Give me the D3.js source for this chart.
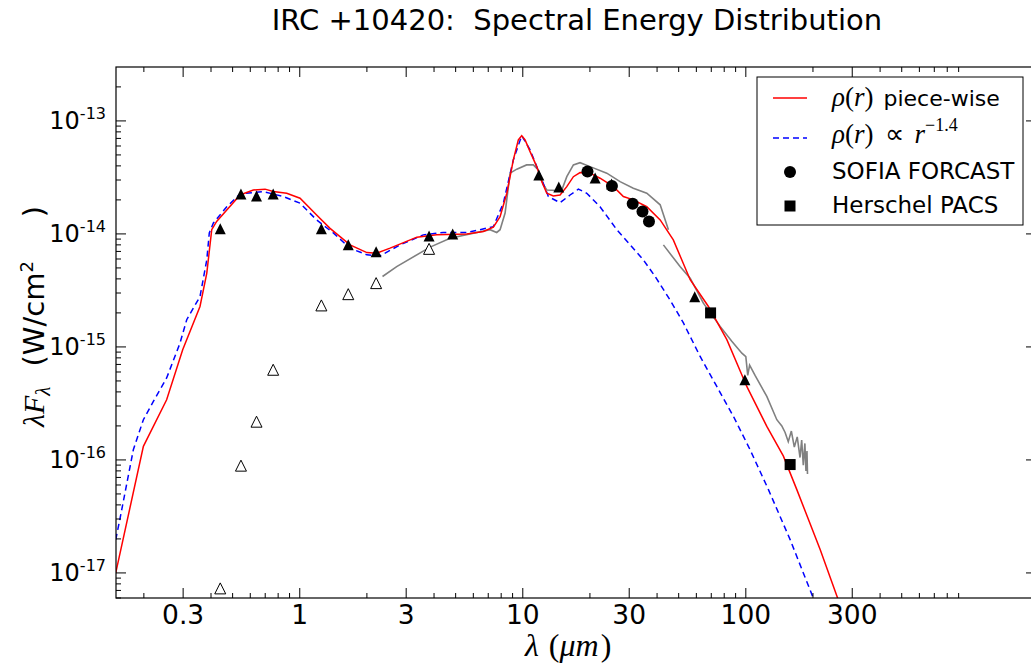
<!DOCTYPE html>
<html>
<head>
<meta charset="utf-8">
<script src="https://cdn.jsdelivr.net/npm/d3@7"></script>
<style>
body { margin: 0; background: #fff; }
svg { display: block; }
svg text { white-space: pre; }
</style>
</head>
<body>
<div id="chart"></div>
<script>
// photometry, dereddened (filled triangles)
const photLam = [0.44, 0.545, 0.64, 0.76, 1.25, 1.65, 2.2, 3.8, 4.85, 11.8, 14.5, 21.1, 25, 59, 99];
const photFlux = [1.11e-14, 2.26e-14, 2.17e-14, 2.26e-14, 1.11e-14, 8.0e-15, 6.95e-15, 9.6e-15, 1.0e-14,
    3.33e-14, 2.6e-14, 3.13e-14, 2.77e-14, 2.78e-15, 5.13e-16];
// photometry, observed (open triangles)
const obsLam = [0.44, 0.545, 0.64, 0.76, 1.25, 1.65, 2.2, 3.8];
const obsFlux = [7.3e-18, 8.9e-17, 2.18e-16, 6.28e-16, 2.33e-15, 2.93e-15, 3.67e-15, 7.38e-15];
// SOFIA FORCAST
const sofiaLam = [19.5, 25.1, 31.1, 34.4, 36.8];
const sofiaFlux = [3.56e-14, 2.66e-14, 1.85e-14, 1.58e-14, 1.29e-14];
// Herschel PACS
const pacsLam = [69.5, 158];
const pacsFlux = [2.0e-15, 9.1e-17];

// ISO spectra (grey)
const swsLam = [2.35, 2.72, 3.84, 4.72, 7.13, 7.64, 7.91, 8.33, 8.77, 9.4, 10.4, 11.15, 11.74, 12.37, 12.81,
    14.2, 14.96, 15.75, 16.86, 18.06, 20.03, 23.8, 27.3, 31.3, 35.97, 41.3, 44.97];
const swsFlux = [4.2e-15, 5.14e-15, 7.64e-15, 9.17e-15, 1.09e-14, 1.03e-14, 1.09e-14, 1.53e-14, 3.45e-14, 3.74e-14,
    4.08e-14, 4.08e-14, 3.68e-14, 2.72e-14, 2.45e-14, 2.42e-14, 2.45e-14, 3.21e-14, 4.08e-14, 4.27e-14, 3.94e-14,
    3.45e-14, 2.9e-14, 2.54e-14, 2.29e-14, 1.81e-14, 1.09e-14];
const lwsLam = [42.7, 50.7, 56.3, 64.5, 76.7, 86.5, 96, 100, 102, 104, 110, 124.2, 137.7, 145, 150, 155, 160,
    165, 170, 175, 178, 181, 184, 186, 188, 189];
const lwsFlux = [8.0e-15, 5.14e-15, 4.06e-15, 2.44e-15, 1.52e-15, 1.12e-15, 8.8e-16, 8.2e-16, 5.6e-16, 6.9e-16,
    5.6e-16, 3.65e-16, 2.27e-16, 2.0e-16, 1.75e-16, 1.45e-16, 1.8e-16, 1.3e-16, 1.6e-16, 1.05e-16, 1.5e-16,
    0.9e-16, 1.4e-16, 0.8e-16, 1.2e-16, 0.75e-16];

// model: rho(r) piece-wise (red)
const redLam = [0.1496, 0.199, 0.253, 0.2986, 0.357, 0.383, 0.403, 0.424, 0.54, 0.619, 0.699, 0.761, 0.874,
    1.003, 1.19, 1.367, 1.68, 2.0, 2.21, 2.54, 3.35, 4.11, 5.61, 6.66, 7.38, 7.91, 8.48, 9.07, 9.55, 9.89,
    10.24, 10.78, 11.55, 12.17, 12.81, 13.71, 14.69, 15.75, 16.86, 18.06, 20.03, 22.2, 25.5, 28.25, 31.3,
    35.97, 41.3, 47.3, 56.3, 67.96, 82.2, 101, 124.2, 147.4, 169.3, 215.4, 259.4, 278.7];
const redFlux = [1.0e-17, 1.32e-16, 3.41e-16, 9.44e-16, 2.28e-15, 4.5e-15, 1.09e-14, 1.29e-14, 2.21e-14,
    2.45e-14, 2.49e-14, 2.37e-14, 2.29e-14, 2.07e-14, 1.47e-14, 1.12e-14, 8.0e-15, 6.84e-15, 6.76e-15,
    7.48e-15, 9.36e-15, 9.81e-15, 1.0e-14, 1.05e-14, 1.15e-14, 1.42e-14, 2.29e-14, 4.52e-14, 6.79e-14,
    7.41e-14, 6.79e-14, 5.35e-14, 3.94e-14, 2.9e-14, 2.29e-14, 2.17e-14, 2.21e-14, 2.62e-14, 3.21e-14,
    3.49e-14, 3.45e-14, 3.11e-14, 2.62e-14, 2.14e-14, 2.0e-14, 1.74e-14, 1.33e-14, 8.86e-15, 3.93e-15,
    2.28e-15, 1.16e-15, 4.47e-16, 1.98e-16, 1.08e-16, 5.46e-17, 1.61e-17, 5.81e-18, 3.87e-18];

// model: rho(r) ~ r^-1.4 (blue dashed)
const blueLam = [0.1496, 0.156, 0.1794, 0.199, 0.2206, 0.253, 0.2904, 0.3113, 0.357, 0.383, 0.393, 0.41,
    0.439, 0.4705, 0.54, 0.6865, 0.844, 1.003, 1.19, 1.414, 1.68, 2.0, 2.29, 2.82, 3.58, 4.4, 5.61, 6.43,
    7.38, 8.18, 9.07, 9.89, 10.78, 11.95, 13.02, 14.69, 16.29, 17.75, 19.36, 22.2, 26.4, 30.3, 34.7, 39.2,
    45.7, 52.5, 62.4, 74.1, 88.0, 104.5, 126.3, 158, 200.3, 215];
const blueFlux = [1.97e-17, 2.96e-17, 1.23e-16, 2.27e-16, 3.3e-16, 5.31e-16, 1.08e-15, 1.74e-15, 2.79e-15,
    5.9e-15, 1.02e-14, 1.25e-14, 1.47e-14, 1.74e-14, 2.26e-14, 2.37e-14, 2.14e-14, 1.87e-14, 1.33e-14,
    1.02e-14, 7.48e-15, 6.53e-15, 6.4e-15, 8.0e-15, 9.81e-15, 1.03e-14, 1.03e-14, 1.09e-14, 1.16e-14,
    1.87e-14, 4.52e-14, 7.41e-14, 5.54e-14, 3.33e-14, 2.14e-14, 1.89e-14, 2.21e-14, 2.49e-14, 2.29e-14,
    1.74e-14, 1.09e-14, 8.0e-15, 5.9e-15, 4.2e-15, 2.61e-15, 1.63e-15, 8.23e-16, 4.47e-16, 2.43e-16,
    1.23e-16, 5.46e-17, 1.97e-17, 6.05e-18, 4.0e-18];

const xMajor = [0.3, 1, 3, 10, 30, 100, 300];
const xMajorLabels = ["0.3", "1", "3", "10", "30", "100", "300"];
const yMajor = [1e-17, 1e-16, 1e-15, 1e-14, 1e-13];
const yMajorExp = ["-17", "-16", "-15", "-14", "-13"];

const width = 1031, height = 666;
const plotL = 116, plotR = 1036, plotT = 67, plotB = 598;

const svg = d3.select("#chart").append("svg")
    .attr("width", width)
    .attr("height", height);

const x = d3.scaleLog().domain([0.15, 2000]).range([plotL, plotR]);
const y = d3.scaleLog().domain([6e-18, 3e-13]).range([plotB, plotT]);

svg.append("clipPath").attr("id", "clip")
    .append("rect")
    .attr("x", plotL).attr("y", plotT)
    .attr("width", plotR - plotL).attr("height", plotB - plotT);

const plot = svg.append("g").attr("clip-path", "url(#clip)");

function zip(a, b) {
    return a.map((v, i) => ({ lam: v, f: b[i] }));
}

const line = d3.line()
    .x(d => x(d.lam))
    .y(d => y(d.f));

// grey spectra
[zip(swsLam, swsFlux), zip(lwsLam, lwsFlux)].forEach(function (seg) {
    plot.append("path")
        .datum(seg)
        .attr("d", line)
        .attr("fill", "none")
        .attr("stroke", "#808080")
        .attr("stroke-width", 1.6);
});

plot.append("path")
    .datum(zip(blueLam, blueFlux))
    .attr("d", line)
    .attr("fill", "none")
    .attr("stroke", "#0000ff")
    .attr("stroke-width", 1.5)
    .attr("stroke-dasharray", "6,4");

plot.append("path")
    .datum(zip(redLam, redFlux))
    .attr("d", line)
    .attr("fill", "none")
    .attr("stroke", "#ff0000")
    .attr("stroke-width", 1.5);

function triPath(s) {
    return `M0,${-s}L${s},${s}L${-s},${s}Z`;
}

// open triangles
plot.selectAll(".obs")
    .data(zip(obsLam, obsFlux))
    .join("path")
    .attr("class", "obs")
    .attr("d", triPath(5.5))
    .attr("transform", d => `translate(${x(d.lam)},${y(d.f)})`)
    .attr("fill", "#fff")
    .attr("stroke", "#000")
    .attr("stroke-width", 1);

// filled triangles
plot.selectAll(".phot")
    .data(zip(photLam, photFlux))
    .join("path")
    .attr("class", "phot")
    .attr("d", triPath(5.5))
    .attr("transform", d => `translate(${x(d.lam)},${y(d.f)})`)
    .attr("fill", "#000");

plot.selectAll(".sofia")
    .data(zip(sofiaLam, sofiaFlux))
    .join("circle")
    .attr("class", "sofia")
    .attr("cx", d => x(d.lam))
    .attr("cy", d => y(d.f))
    .attr("r", 6)
    .attr("fill", "#000");

plot.selectAll(".pacs")
    .data(zip(pacsLam, pacsFlux))
    .join("rect")
    .attr("class", "pacs")
    .attr("x", d => x(d.lam) - 5.5)
    .attr("y", d => y(d.f) - 5.5)
    .attr("width", 11)
    .attr("height", 11)
    .attr("fill", "#000");

// frame
svg.append("rect")
    .attr("x", plotL).attr("y", plotT)
    .attr("width", plotR - plotL).attr("height", plotB - plotT)
    .attr("fill", "none")
    .attr("stroke", "#000")
    .attr("stroke-width", 1.2);

// minor tick values
function minorTicks(scale, lo, hi, skip) {
    const out = [];
    const d = scale.domain();
    for (let n = lo; n <= hi; n++) {
        for (let k = 2; k <= 9; k++) {
            const v = k * Math.pow(10, n);
            if (v >= d[0] && v <= d[1] && !skip.some(s => Math.abs(s - v) / v < 1e-6)) out.push(v);
        }
    }
    return out;
}
const xMinor = minorTicks(x, -1, 3, xMajor);
const yMinor = minorTicks(y, -18, -13, []);

const ticks = svg.append("g").attr("stroke", "#000").attr("stroke-width", 1);
function xTicks(vals, len) {
    vals.forEach(v => {
        ticks.append("line").attr("x1", x(v)).attr("x2", x(v)).attr("y1", plotB).attr("y2", plotB - len);
        ticks.append("line").attr("x1", x(v)).attr("x2", x(v)).attr("y1", plotT).attr("y2", plotT + len);
    });
}
function yTicks(vals, len) {
    vals.forEach(v => {
        ticks.append("line").attr("y1", y(v)).attr("y2", y(v)).attr("x1", plotL).attr("x2", plotL + len);
        ticks.append("line").attr("y1", y(v)).attr("y2", y(v)).attr("x1", plotR).attr("x2", plotR - len);
    });
}
xTicks(xMajor, 10);
xTicks(xMinor, 5);
yTicks(yMajor, 10);
yTicks(yMinor, 5);

// tick labels
svg.append("g").selectAll("text")
    .data(xMajor)
    .join("text")
    .attr("x", d => x(d))
    .attr("y", 624)
    .attr("text-anchor", "middle")
    .attr("font-family", "DejaVu Sans")
    .attr("font-size", 26.5)
    .text((d, i) => xMajorLabels[i]);

const yl = svg.append("g").selectAll("text")
    .data(yMajor)
    .join("text")
    .attr("x", 106)
    .attr("y", d => y(d) + 8)
    .attr("text-anchor", "end")
    .attr("font-family", "DejaVu Sans")
    .attr("font-size", 24);
yl.append("tspan").text("10");
yl.append("tspan").attr("dy", -10).attr("font-size", 16).text((d, i) => yMajorExp[i]);

// title
svg.append("text")
    .attr("x", 577)
    .attr("y", 30)
    .attr("text-anchor", "middle")
    .attr("font-family", "DejaVu Sans")
    .attr("font-size", 29)
    .text("IRC +10420:  Spectral Energy Distribution");

// x label
const xl = svg.append("text")
    .attr("x", 525)
    .attr("y", 656)
    .attr("font-family", "Liberation Serif")
    .attr("font-size", 32);
xl.append("tspan").attr("font-style", "italic").text("λ");
xl.append("tspan").attr("dx", 10).text("(");
xl.append("tspan").attr("font-style", "italic").text("μm");
xl.append("tspan").attr("dx", 2).text(")");

// y label
const ylab = svg.append("text")
    .attr("transform", "translate(44,427) rotate(-90)")
    .attr("font-size", 30);
ylab.append("tspan").attr("font-family", "Liberation Serif").attr("font-style", "italic").text("λF");
ylab.append("tspan").attr("font-family", "Liberation Serif").attr("font-style", "italic")
    .attr("font-size", 21).attr("dy", 6).text("λ");
ylab.append("tspan").attr("font-family", "DejaVu Sans").attr("font-size", 29).attr("dy", -6).attr("dx", 20).text("(W/cm");
ylab.append("tspan").attr("font-family", "DejaVu Sans").attr("font-size", 18).attr("dy", -11).text("2");
ylab.append("tspan").attr("font-family", "DejaVu Sans").attr("font-size", 29).attr("dy", 11).attr("dx", 44).text(")");

// legend
const lg = svg.append("g");
lg.append("rect")
    .attr("x", 757).attr("y", 77)
    .attr("width", 266).attr("height", 148)
    .attr("fill", "#fff")
    .attr("stroke", "#000")
    .attr("stroke-width", 1);
lg.append("line").attr("x1", 773).attr("x2", 807).attr("y1", 98).attr("y2", 98)
    .attr("stroke", "#ff0000").attr("stroke-width", 1.5);
lg.append("line").attr("x1", 773).attr("x2", 807).attr("y1", 138).attr("y2", 138)
    .attr("stroke", "#0000ff").attr("stroke-width", 1.5).attr("stroke-dasharray", "6,4");
lg.append("circle").attr("cx", 790).attr("cy", 172).attr("r", 6).attr("fill", "#000");
lg.append("rect").attr("x", 784.5).attr("y", 200.5).attr("width", 11).attr("height", 11).attr("fill", "#000");

function rhoText(t) {
    t.append("tspan").attr("font-family", "Liberation Serif").attr("font-style", "italic").attr("font-size", 27).text("ρ");
    t.append("tspan").attr("font-family", "Liberation Serif").attr("font-size", 27).text("(");
    t.append("tspan").attr("font-family", "Liberation Serif").attr("font-style", "italic").attr("font-size", 27).text("r");
    t.append("tspan").attr("font-family", "Liberation Serif").attr("font-size", 27).text(")");
}
const t1 = lg.append("text").attr("x", 832).attr("y", 106).attr("font-family", "DejaVu Sans").attr("font-size", 23);
rhoText(t1);
t1.append("tspan").attr("dx", 10).attr("font-size", 22).text("piece-wise");
const t2 = lg.append("text").attr("x", 832).attr("y", 143).attr("font-family", "DejaVu Sans").attr("font-size", 23);
rhoText(t2);
t2.append("tspan").attr("font-family", "Liberation Serif").attr("font-size", 27).attr("dx", 12).text("∝");
t2.append("tspan").attr("font-family", "Liberation Serif").attr("font-style", "italic").attr("font-size", 27).attr("dx", 10).text("r");
t2.append("tspan").attr("font-family", "Liberation Serif").attr("font-size", 18).attr("dy", -12).text("−1.4");
lg.append("text").attr("x", 832).attr("y", 179).attr("font-family", "DejaVu Sans").attr("font-size", 23)
    .text("SOFIA FORCAST");
lg.append("text").attr("x", 832).attr("y", 213).attr("font-family", "DejaVu Sans").attr("font-size", 23)
    .text("Herschel PACS");
</script>
</body>
</html>
